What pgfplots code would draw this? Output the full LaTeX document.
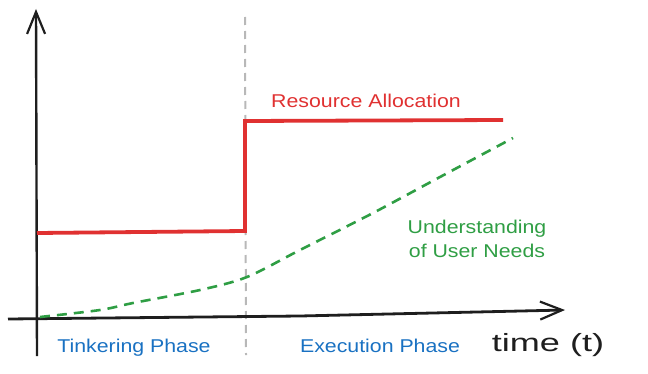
\documentclass[border=0pt]{standalone}
\usepackage{pgfplots}
\pgfplotsset{compat=1.18}
\usepackage{fontspec}
\setmainfont{Liberation Sans}[FakeStretch=1.15]
\newfontfamily\widefont{Liberation Sans}[FakeStretch=1.45]
\usetikzlibrary{arrows.meta}
\definecolor{exred}{HTML}{E03131}
\definecolor{exgreen}{HTML}{2F9E44}
\definecolor{exblue}{HTML}{1971C2}
\definecolor{exgray}{HTML}{B8B8B8}
\definecolor{exblack}{HTML}{1E1E1E}
\begin{document}
\begin{tikzpicture}
\begin{axis}[
  width=648bp, height=374bp, scale only axis,
  xmin=0, xmax=648, ymin=0, ymax=374, y dir=reverse,
  axis line style={draw=none}, ticks=none,
  clip=false,
]
% gray phase divider
\addplot[exgray, line width=2bp, dash pattern=on 8bp off 6bp] coordinates {(245,17) (246,355)};
% axes
\addplot[exblack, line width=2.4bp, -{Straight Barb[length=22bp,width=18bp,line width=2.2bp]}] coordinates {(37,356) (36,9)};
\addplot[exblack, line width=2.8bp, -{Straight Barb[length=22bp,width=18bp,line width=2.2bp]}] coordinates {(8,319) (300,316) (565,310)};
% resource allocation
\addplot[exred, line width=3.8bp] coordinates {(37,233) (245,231) (245,121) (503,120)};
% understanding of user needs
\addplot[exgreen, line width=2.6bp, dash pattern=on 10bp off 7bp, smooth] coordinates {(40,317) (100,310) (133,303) (200,290) (247,277) (300,250) (373,213) (440,177) (513,138)};
% labels
\node[exred, font=\fontsize{18.6}{20}\selectfont] at (axis cs:366,101) {Resource Allocation};
\node[exgreen, font=\fontsize{18.6}{24.5}\selectfont, align=center] at (axis cs:477,239) {Understanding\\of User Needs};
\node[exblue, font=\fontsize{18.6}{20}\selectfont] at (axis cs:134,348) {Tinkering Phase};
\node[exblue, font=\fontsize{18.6}{20}\selectfont] at (axis cs:380,346) {Execution Phase};
\node[exblack, font=\widefont\fontsize{25}{28}\selectfont] at (axis cs:548,345) {time (t)};
\end{axis}
\end{tikzpicture}
\end{document}
